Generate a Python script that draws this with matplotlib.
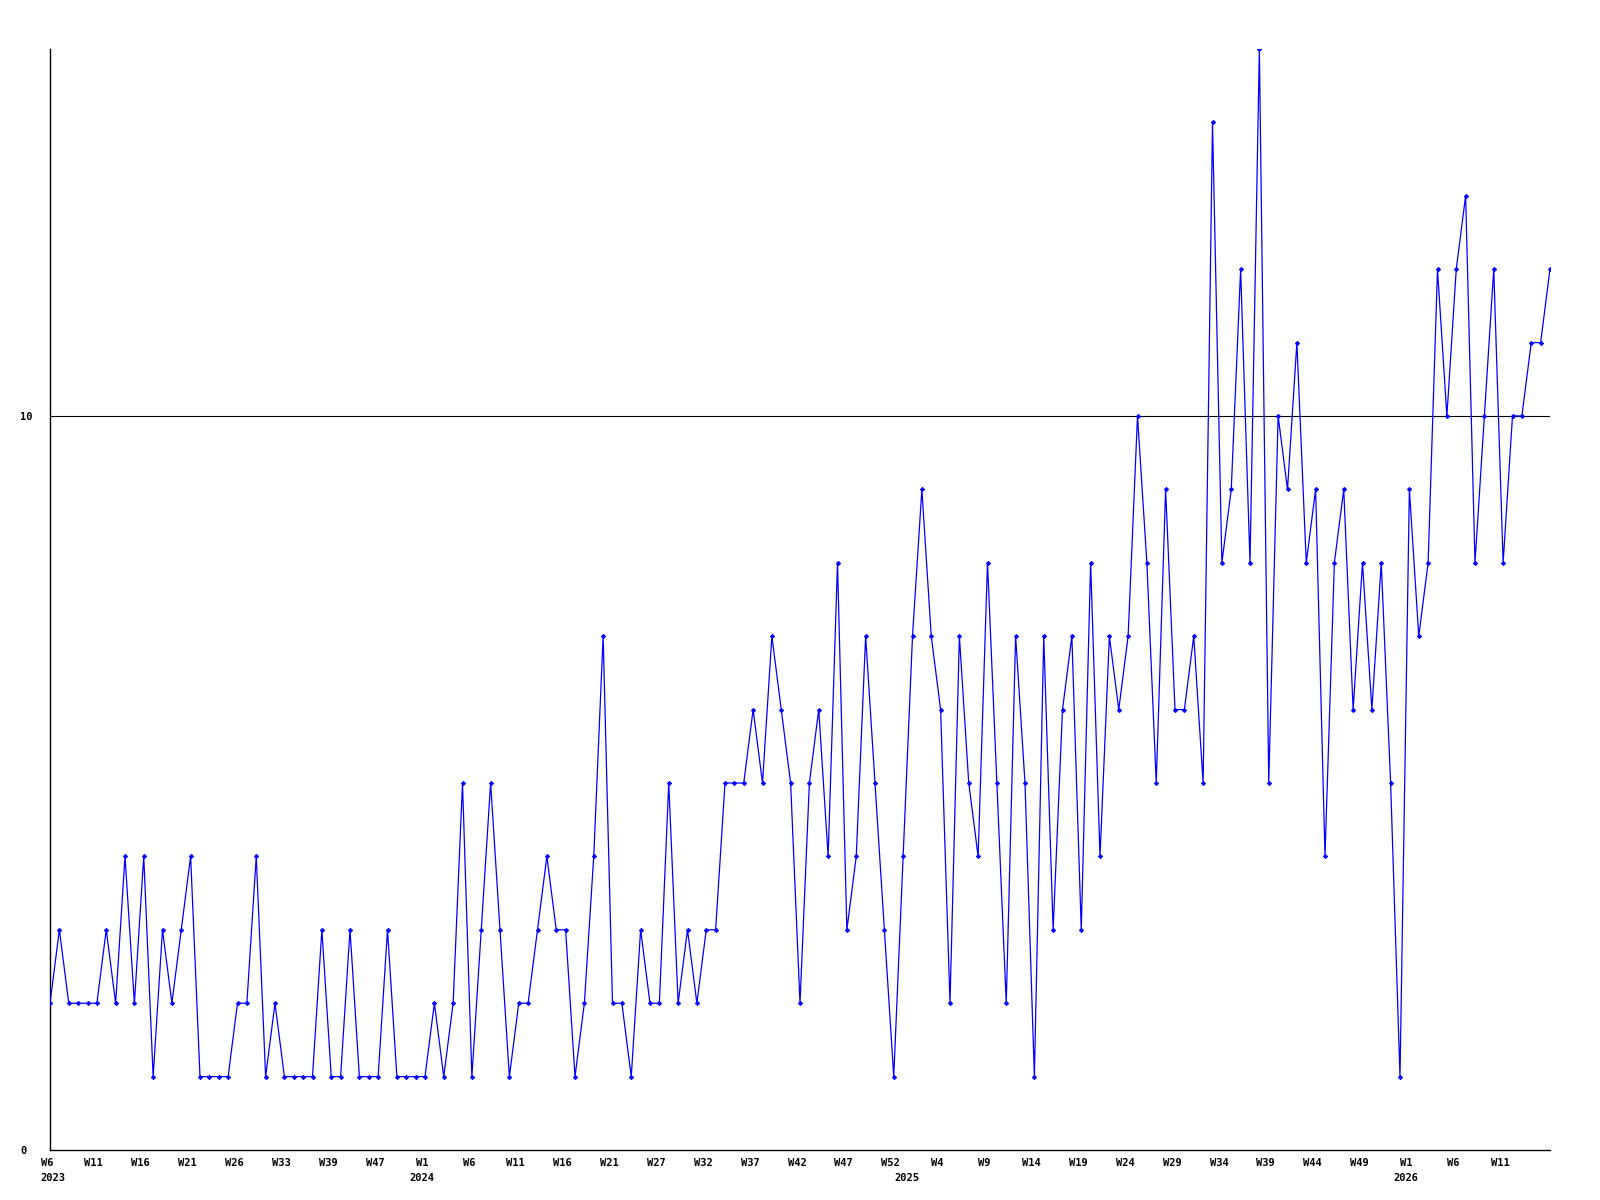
import matplotlib
matplotlib.use("Agg")
import matplotlib.pyplot as plt
import matplotlib.transforms as mtransforms

# weekly counts, one per data point (weeks without data are skipped)
values = [2, 3, 2, 2, 2, 2, 3, 2, 4, 2, 4, 1, 3, 2, 3, 4, 1, 1, 1, 1, 2, 2, 4, 1, 2, 1, 1,
          1, 1, 3, 1, 1, 3, 1, 1, 1, 3, 1, 1, 1, 1, 2, 1, 2, 5, 1, 3, 5, 3, 1, 2, 2, 3, 4, 3,
          3, 1, 2, 4, 7, 2, 2, 1, 3, 2, 2, 5, 2, 3, 2, 3, 3, 5, 5, 5, 6, 5, 7, 6, 5, 2, 5, 6,
          4, 8, 3, 4, 7, 5, 3, 1, 4, 7, 9, 7, 6, 2, 7, 5, 4, 8, 5, 2, 7, 5, 1, 7, 3, 6, 7, 3,
          8, 4, 7, 6, 7, 10, 8, 5, 9, 6, 6, 7, 5, 14, 8, 9, 12, 8, 15, 5, 10, 9, 11, 8, 9, 4, 8,
          9, 6, 8, 6, 8, 5, 1, 9, 7, 8, 12, 10, 12, 13, 8, 10, 12, 8, 10, 10, 11, 11, 12]

week_labels = ["W6", "W11", "W16", "W21", "W26", "W33", "W39", "W47",
               "W1", "W6", "W11", "W16", "W21", "W27", "W32", "W37", "W42", "W47", "W52",
               "W4", "W9", "W14", "W19", "W24", "W29", "W34", "W39", "W44", "W49",
               "W1", "W6", "W11"]
label_step = 5

years = ["2023", "2024", "2025", "2026"]
year_pos = [0.3, 39.7, 91.4, 144.6]

y_ticks = [0, 10]

font = dict(family="DejaVu Sans Mono", weight="bold", size=7.5)

fig = plt.figure(figsize=(16, 12), dpi=100)
ax = fig.add_axes([50 / 1600, 50 / 1200, 1500 / 1600, 1101 / 1200])

x = list(range(len(values)))
ax.plot(x, values, color="#0000ff", linewidth=0.9, marker="D", markersize=2.2,
        markeredgewidth=0.6, zorder=3)

ax.set_xlim(0, len(values) - 1)
ax.set_ylim(0, 15)

for s in ["top", "right"]:
    ax.spines[s].set_visible(False)
for s in ["left", "bottom"]:
    ax.spines[s].set_linewidth(1.0)
    ax.spines[s].set_color("black")

ax.axhline(10, color="black", linewidth=0.8, zorder=1)

ax.set_xticks([i * label_step for i in range(len(week_labels))])
ax.set_xticklabels(week_labels, fontdict=font)
ax.tick_params(axis="x", length=0, pad=5.5)
shift = mtransforms.ScaledTranslation(-3 / 100, 0, fig.dpi_scale_trans)
for lab in ax.get_xticklabels():
    lab.set_transform(lab.get_transform() + shift)

ax.set_yticks(y_ticks)
ax.set_yticklabels([str(v) for v in y_ticks], fontdict=font)
ax.tick_params(axis="y", length=0, pad=21.6)
for lab in ax.get_yticklabels():
    lab.set_horizontalalignment("left")

trans = mtransforms.blended_transform_factory(ax.transData, ax.transAxes)
for yr, pos in zip(years, year_pos):
    ax.text(pos, -0.0205, yr, transform=trans, ha="center", va="top", **font)

fig.savefig("out.png", dpi=100)
